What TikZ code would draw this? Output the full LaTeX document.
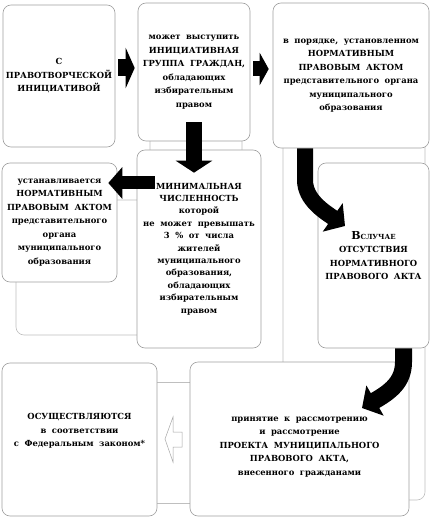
\documentclass[tikz,border=0pt]{standalone}
\usepackage{fontspec}
\setmainfont[WordSpace=1.9]{DejaVu Serif}
\usepackage{tikz}
\usetikzlibrary{arrows.meta}

\tikzset{
  blok/.style={draw=gray!75, fill=white, rounded corners=8pt, line width=0.6pt, align=center, inner sep=0pt},
  tekst/.style={align=center, inner sep=0pt, font=\fontsize{8.4}{13.5}\selectfont\bfseries},
  fon/.style={draw=gray!50, fill=white, rounded corners=8pt, line width=0.6pt},
  strelka/.style n args={3}{draw=black, line width=#1, -{Triangle[width=#2, length=#3]}},
}

\begin{document}
\begin{tikzpicture}[x=1pt, y=-1pt]
    \useasboundingbox (0,0) rectangle (432,521);
    % fon
    \draw[fon] (150,110) rectangle (242,170);
    \draw[fon] (16,200) rectangle (200,335);
    \draw[fon] (283,100) rectangle (425,500);
    \draw[fon, rounded corners=0pt] (120,382) rectangle (230,503);

    \node[blok, tekst, minimum width=112pt, minimum height=142pt] (A) at (59,76) {С\\ПРАВОТВОРЧЕСКОЙ\\ИНИЦИАТИВОЙ};
    \node[blok, tekst, minimum width=112pt, minimum height=138pt] (B) at (194,72) {может выступить\\ИНИЦИАТИВНАЯ\\ГРУППА ГРАЖДАН,\\обладающих\\избирательным\\правом};
    \node[blok, tekst, minimum width=156pt, minimum height=145pt] (C) at (351,75.5) {в порядке, установленном\\НОРМАТИВНЫМ\\ПРАВОВЫМ АКТОМ\\представительного органа\\муниципального\\образования};
    \node[blok, tekst, minimum width=115pt, minimum height=119pt] (D) at (59.5,222.5) {устанавливается\\НОРМАТИВНЫМ\\ПРАВОВЫМ АКТОМ\\представительного\\органа\\муниципального\\образования};
    \node[blok, tekst, font=\fontsize{8.4}{12.4}\selectfont\bfseries, minimum width=124pt, minimum height=198pt] (E) at (199,249) {МИНИМАЛЬНАЯ\\ЧИСЛЕННОСТЬ\\которой\\не может превышать\\3 \% от числа\\жителей\\муниципального\\образования,\\обладающих\\избирательным\\правом};
    \node[blok, tekst, minimum width=111pt, minimum height=185pt] (F) at (373.5,255.5) {{\fontsize{11}{13}\selectfont В}{\fontsize{7}{13}\selectfont СЛУЧАЕ}\\ОТСУТСТВИЯ\\НОРМАТИВНОГО\\ПРАВОВОГО АКТА};
    \node[blok, minimum width=155pt, minimum height=153pt] (G) at (79.5,439.5) {};
    \node[tekst] (Gt) at ([yshift=8.5pt]G.center) {ОСУЩЕСТВЛЯЮТСЯ\\в соответствии\\с Федеральным законом*};
    \node[blok, minimum width=219pt, minimum height=154pt] (H) at (299.5,439) {};
    \node[tekst] (Ht) at ([yshift=-8pt]H.center) {принятие к рассмотрению\\и рассмотрение\\ПРОЕКТА МУНИЦИПАЛЬНОГО\\ПРАВОВОГО АКТА,\\внесенного гражданами};

    % strelki
    \coordinate (ab) at ([yshift=8pt]A.east);
    \draw[strelka={17pt}{40pt}{9pt}, shorten <=3pt, shorten >=3pt] (ab) -- (ab -| B.west);
    \coordinate (bc) at ([yshift=3pt]B.east);
    \draw[strelka={15pt}{32pt}{9pt}, shorten <=3pt, shorten >=4pt] (bc) -- (bc -| C.west);
    \draw[strelka={16pt}{36pt}{12pt}, shorten <=-19pt, shorten >=-23pt] (B.south) -- (B.south |- E.north);
    \coordinate (ed) at ([yshift=39.5pt]D.east);
    \draw[strelka={13pt}{31pt}{14pt}, shorten <=-18pt, shorten >=-9pt] (ed -| E.west) -- (ed);
    \coordinate (cfend) at (345,226);
    \draw[strelka={16pt}{34pt}{15pt}] ([xshift=-46pt]C.south) -- (305,180) .. controls (305,200) and (325,212) .. (cfend);
    \coordinate (fhend) at (362,408);
    \draw[strelka={17pt}{34pt}{15pt}] ([xshift=30pt]F.south) -- (403.5,362) .. controls (403.5,382) and (390,392) .. (fhend);
    \draw[gray!70, fill=white, line width=0.5pt] (165,439) -- (173,417) -- (173,432) -- (182,432) -- (182,447) -- (173,447) -- (173,462) -- cycle;
\end{tikzpicture}
\end{document}
